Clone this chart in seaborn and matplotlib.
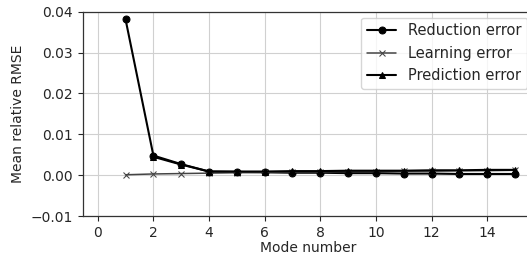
import pandas as pd
import numpy as np
import matplotlib
matplotlib.use("Agg")
import matplotlib.pyplot as plt
import seaborn as sns

# Valores
modes = list(range(1, 16))
reduction_error = [0.0381, 0.0048, 0.0027, 0.0009, 0.0008, 0.0007, 0.0006, 0.0006,
                   0.0005, 0.0005, 0.0004, 0.0004, 0.0003, 0.0003, 0.0003]
learning_error = [0.0001, 0.0003, 0.0004, 0.0005, 0.0006, 0.0007, 0.0008, 0.0008,
                  0.0009, 0.0009, 0.0010, 0.0010, 0.0011, 0.0011, 0.0012]
prediction_modes = list(range(2, 16))
prediction_error = [0.0045, 0.0026, 0.0009, 0.0009, 0.0009, 0.0010, 0.0010,
                    0.0011, 0.0011, 0.0011, 0.0012, 0.0012, 0.0013, 0.0013]


def main():
    sns.set_style("ticks")
    plt.rcParams['font.family'] = ['DejaVu Sans']

    fig = plt.figure(figsize=(5.27, 2.6), dpi=100)
    # El eje se extiende un poco más allá del borde derecho (imagen recortada)
    ax = fig.add_axes([0.157, 0.169, 0.855, 0.786])

    df_red = pd.DataFrame({'mode': modes, 'err': reduction_error})
    df_learn = pd.DataFrame({'mode': modes, 'err': learning_error})
    df_pred = pd.DataFrame({'mode': prediction_modes, 'err': prediction_error})

    sns.lineplot(data=df_red, x='mode', y='err', ax=ax, color='black', marker='o',
                 markersize=5, markeredgecolor='black', linewidth=1.5, label='Reduction error')
    sns.lineplot(data=df_learn, x='mode', y='err', ax=ax, color='#444444', marker='x',
                 markersize=4, markeredgecolor='#444444', linewidth=1.1, label='Learning error')
    sns.lineplot(data=df_pred, x='mode', y='err', ax=ax, color='black', marker='^',
                 markersize=5, markeredgecolor='black', linewidth=1.5, label='Prediction error')

    ax.set_xlim(-0.54, 15.66)
    ax.set_ylim(-0.01, 0.04)
    ax.set_xticks(range(0, 16, 2))
    ax.set_yticks([-0.01, 0.0, 0.01, 0.02, 0.03, 0.04])
    ax.set_yticklabels(['\u22120.01', '0.00', '0.01', '0.02', '0.03', '0.04'])
    ax.grid(True, color='#d0d0d0', linewidth=0.8)
    ax.tick_params(labelsize=10, length=3.5, width=0.8)
    ax.set_xlabel('Mode number', fontsize=10, labelpad=1)
    ax.set_ylabel('Mean relative RMSE', fontsize=10)
    for side in ['left', 'top', 'bottom', 'right']:
        ax.spines[side].set_visible(True)
        ax.spines[side].set_color('#333333')
        ax.spines[side].set_linewidth(0.9)

    ax.legend(loc='upper right', fontsize=10.5, frameon=True, framealpha=0.8,
              borderaxespad=0.4, handlelength=2)

    fig.savefig('out.png', dpi=100)


if __name__ == "__main__":
    main()
